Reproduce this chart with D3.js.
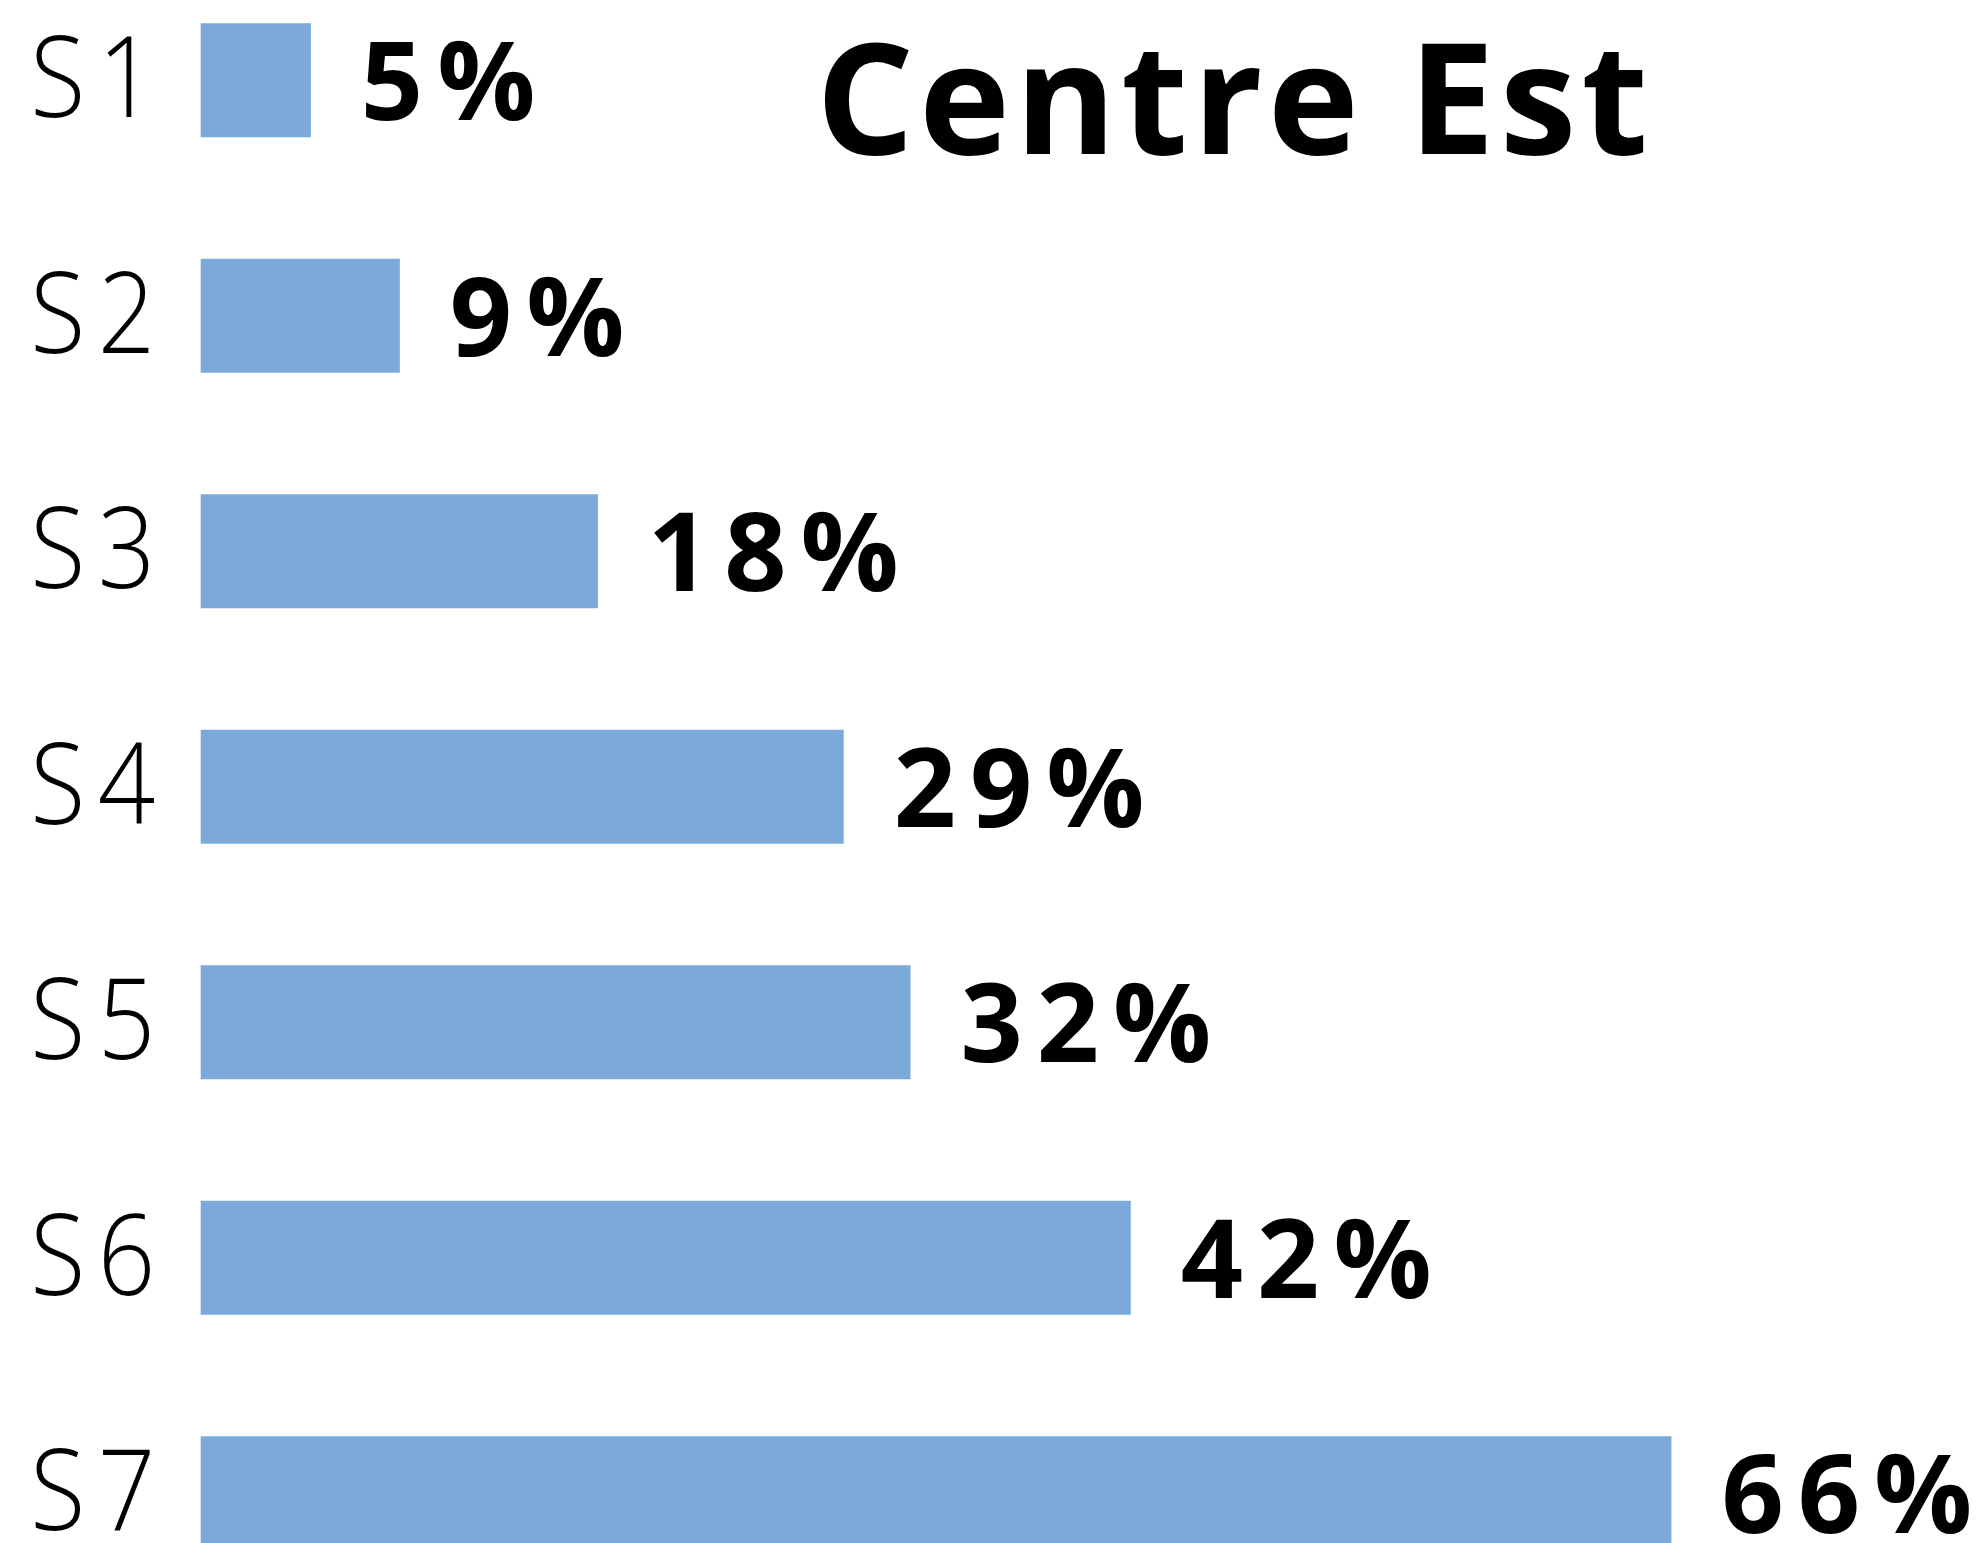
<!DOCTYPE html>
<html>
<head>
<meta charset="utf-8">
<script src="https://cdn.jsdelivr.net/npm/d3@7"></script>
<style>
  html, body { margin: 0; padding: 0; background: #fff; overflow: hidden; }
</style>
</head>
<body>
<script>
// data
var categories = ["S1", "S2", "S3", "S4", "S5", "S6", "S7"];
var values = [4.95, 8.95, 17.85, 28.9, 31.9, 41.8, 66.1];
var valueLabels = ["5%", "9%", "18%", "29%", "32%", "42%", "66%"];
var title = "Centre Est";

var width = 1979, height = 1543;
var data = categories.map((c, i) => ({cat: c, value: values[i], label: valueLabels[i]}));

var x = d3.scaleLinear()
    .domain([0, 70])
    .range([200.7, 200.7 + 70 * 22.25]);

var y = d3.scaleBand()
    .domain(categories)
    .range([-37.5, -37.5 + 7 * 235.5])
    .paddingInner(0.516)
    .paddingOuter(0.258);

const svg = d3.select("body").append("svg")
    .attr("width", width)
    .attr("height", height);

svg.append("g")
    .attr("fill", "#7aa9da")
  .selectAll("rect")
  .data(data)
  .enter().append("rect")
    .attr("x", x(0))
    .attr("y", d => y(d.cat))
    .attr("width", d => x(d.value) - x(0))
    .attr("height", y.bandwidth());

// category labels on the left (narrow face)
svg.append("g")
    .attr("font-family", "'Open Sans', sans-serif")
    .attr("font-weight", 300)
    .attr("font-size", 112)
    .attr("letter-spacing", 14)
    .attr("text-anchor", "end")
  .selectAll("text")
  .data(data)
  .enter().append("text")
    .attr("transform", d => `translate(${154 + 14},${y(d.cat) + y.bandwidth() / 2 + 37}) scale(0.9,1)`)
    .text(d => d.cat);

// value labels
svg.append("g")
    .attr("font-family", "'Open Sans', sans-serif")
    .attr("font-weight", 700)
    .attr("font-size", 109)
    .attr("letter-spacing", 14)
  .selectAll("text")
  .data(data)
  .enter().append("text")
    .attr("x", d => x(d.value) + 50)
    .attr("y", d => y(d.cat) + y.bandwidth() / 2 + 40)
    .text(d => d.label);

svg.append("text")
    .attr("x", 816)
    .attr("y", 154)
    .attr("font-family", "'Open Sans', sans-serif")
    .attr("font-weight", 700)
    .attr("font-size", 154)
    .attr("textLength", 832)
    .attr("lengthAdjust", "spacing")
    .text(title);
</script>
</body>
</html>
